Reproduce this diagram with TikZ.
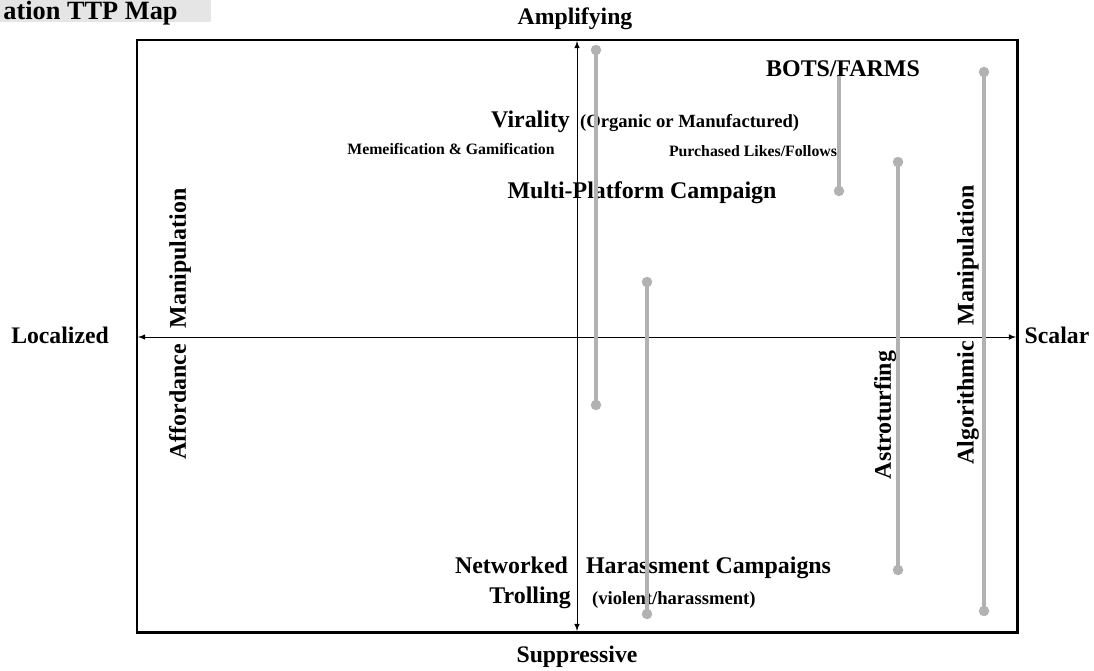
\documentclass[tikz,border=0pt]{standalone}
\usepackage{fontspec}
\setmainfont{Liberation Serif}[BoldFont={Liberation Serif Bold}]
\usetikzlibrary{%
  arrows,%
  positioning% wg. " of "
}
\tikzset{
  big/.style={font=\rmfamily\bfseries\fontsize{13.6}{15}\selectfont, inner sep=1pt},
  mid/.style={font=\rmfamily\bfseries\fontsize{10.6}{12}\selectfont, inner sep=1pt},
  small/.style={font=\rmfamily\bfseries\fontsize{9}{10}\selectfont, inner sep=1pt},
  axlabel/.style={font=\rmfamily\bfseries\fontsize{13.5}{15}\selectfont, inner sep=1pt},
  dot/.style={circle, fill=black!30, inner sep=0, minimum size=0.21cm},
  pin/.style={draw=black!30, line width=2.2pt}
}

\begin{document}
\begin{tikzpicture}[x=0.02cm, y=-0.02cm]
      \useasboundingbox (0,0) rectangle (1094,670);

      % title (cut off in the original)
      \fill[black!10] (0,0) rectangle (211,22);
      \node[anchor=base west, font=\rmfamily\bfseries\fontsize{15}{16}\selectfont, inner sep=0] (title) at (3,19) {ation TTP Map};

      % frame and axes
      \path [draw,line width=1.7pt] (137,40) rectangle (1017,632);
      \coordinate (up) at (577,41);
      \coordinate (down) at (577,631);
      \coordinate (left) at (138,337);
      \coordinate (right) at (1016,337);
      \path [draw,<->,>=latex,thin] (up) -- (down);
      \path [draw,<->,>=latex,thin] (left) -- (right);

      \node[axlabel, anchor=base] (amp) at (575,24) {Amplifying};
      \node[axlabel, anchor=base] (sup) at (577,662) {Suppressive};
      \node[axlabel, anchor=base] (loc) at (60,343) {Localized};
      \node[axlabel, anchor=base] (sca) at (1057,343) {Scalar};

      % labels
      \node[big, anchor=base east] (vir) at (572,127) {Virality};
      \node[mid, anchor=base west] (org) at (578,127) {(Organic or Manufactured)};
      \node[small, anchor=base] (meme) at (451,154) {Memeification \& Gamification};
      \node[small, anchor=base] (likes) at (753,156) {Purchased Likes/Follows};
      \node[big, anchor=base] (multi) at (642,198) {Multi-Platform Campaign};
      \node[big, anchor=base east] (netw) at (570,573) {Networked};
      \node[big, anchor=base west] (hara) at (584,573) {Harassment Campaigns};
      \node[big, anchor=base east] (troll) at (573,603) {Trolling};
      \node[mid, anchor=base west] (viol) at (590,604) {(violent/harassment)};
      \node[big, rotate=90] (aff) at (180,324) {Affordance\hspace{9pt}Manipulation};
      \node[big, rotate=90] (astro) at (885,415) {Astroturfing};
      \node[big, rotate=90] (algo) at (968,325) {Algorithmic\hspace{9pt}Manipulation};

      % pins
      \node[dot] (p1a) at (596,50) {};
      \node[dot] (p1b) at (596,405) {};
      \node[dot] (p2a) at (647,282) {};
      \node[dot] (p2b) at (647,614) {};
      \node[dot] (p3a) at (839,72) {};
      \node[dot] (p3b) at (839,191) {};
      \node[dot] (p4a) at (898,162) {};
      \node[dot] (p4b) at (898,570) {};
      \node[dot] (p5a) at (984,72) {};
      \node[dot] (p5b) at (984,611) {};

      \path [pin] (p1a.center) -- (p1b.center);
      \path [pin] (p2a.center) -- (p2b.center);
      \path [pin] (p3a.center) -- (p3b.center);
      \path [pin] (p4a.center) -- (p4b.center);
      \path [pin] (p5a.center) -- (p5b.center);

      \node[big, anchor=base, fill=white, inner sep=0pt] (bots) at (843,76) {BOTS/FARMS};
\end{tikzpicture}
\end{document}
